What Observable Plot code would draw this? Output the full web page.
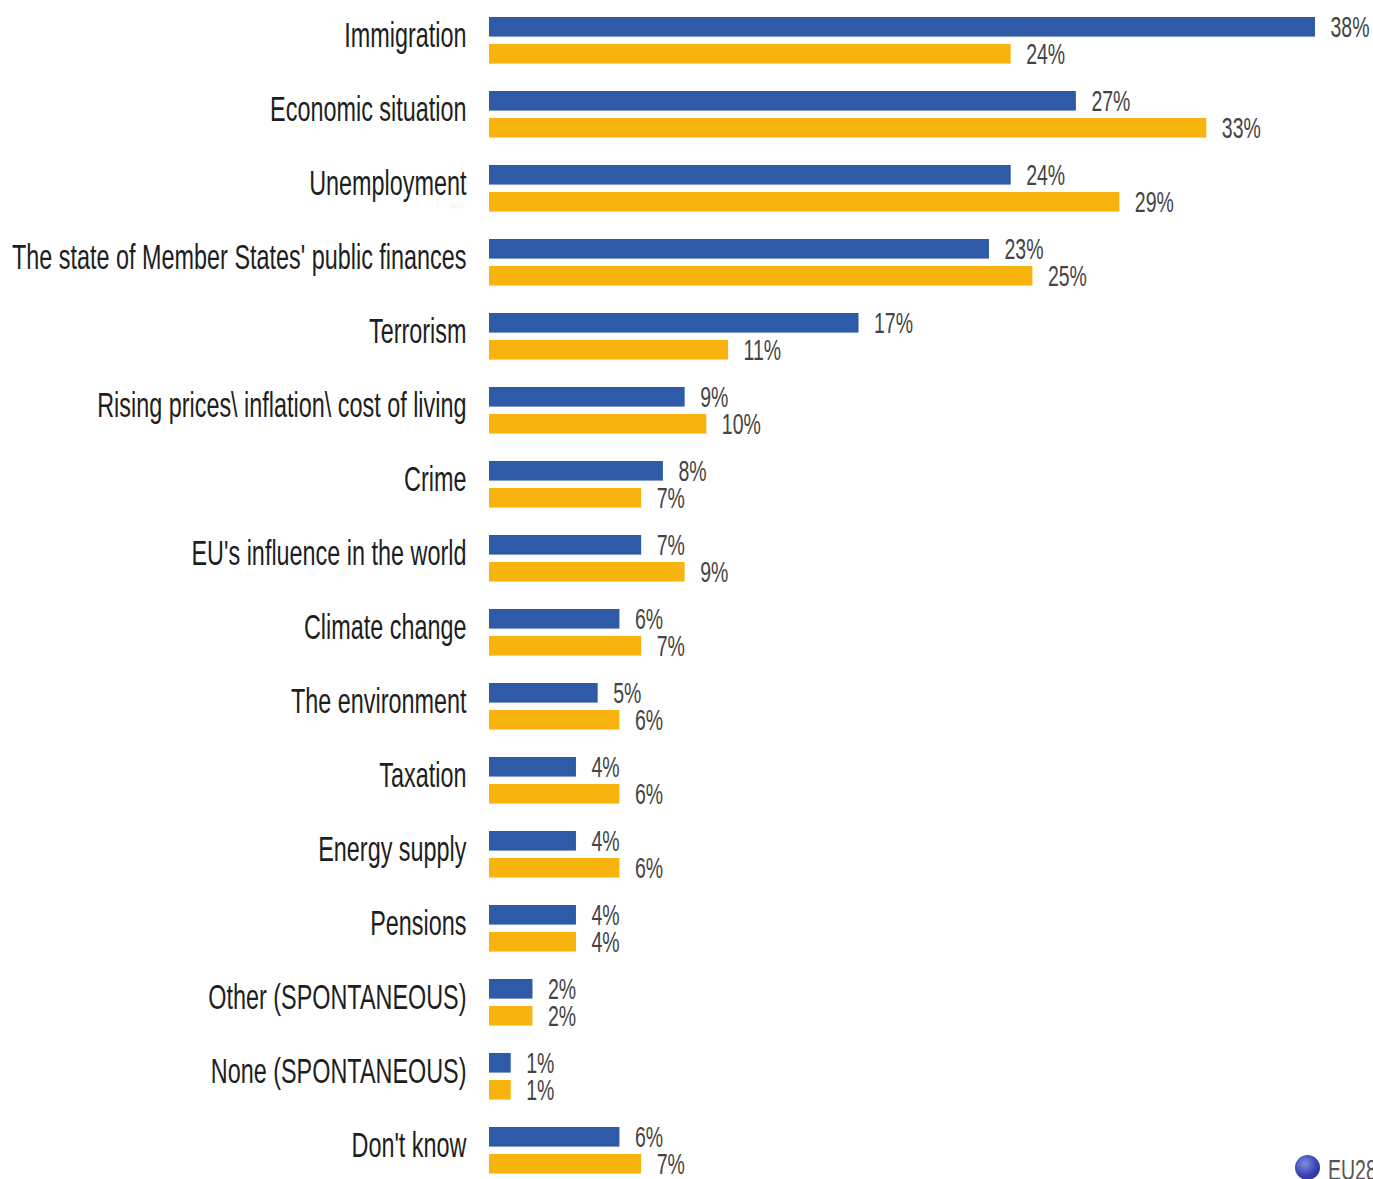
<!DOCTYPE html>
<html>
<head>
<meta charset="utf-8">
<script src="https://cdn.jsdelivr.net/npm/d3@7"></script>
<script src="https://cdn.jsdelivr.net/npm/@observablehq/plot@0.6"></script>
<style>
  html, body { margin: 0; padding: 0; background: #ffffff; overflow: hidden; width: 1373px; height: 1179px; }
  #chart { position: absolute; left: 0; top: 0; }
  #legend { position: absolute; left: 1295px; top: 1155px; white-space: nowrap; font-family: "Liberation Sans", Arial, sans-serif; }
  #legend .dot { display: inline-block; width: 25px; height: 25px; border-radius: 50%;
    background: radial-gradient(circle at 40% 35%, #7d8fe0 0%, #3a3fb0 55%, #23268a 100%); vertical-align: top; }
  #legend .txt { display: inline-block; font-size: 30px; color: #555; transform: scaleX(0.65); transform-origin: left top; margin-left: 8px; line-height: 30px; }
</style>
</head>
<body>
<div id="chart"></div>
<div id="legend"><span class="dot"></span><span class="txt">EU28</span></div>
<script>
const categories = [
  "Immigration",
  "Economic situation",
  "Unemployment",
  "The state of Member States' public finances",
  "Terrorism",
  "Rising prices\\ inflation\\ cost of living",
  "Crime",
  "EU's influence in the world",
  "Climate change",
  "The environment",
  "Taxation",
  "Energy supply",
  "Pensions",
  "Other (SPONTANEOUS)",
  "None (SPONTANEOUS)",
  "Don't know"
];
const blueValues   = [38, 27, 24, 23, 17, 9, 8, 7, 6, 5, 4, 4, 4, 2, 1, 6];
const yellowValues = [24, 33, 29, 25, 11, 10, 7, 9, 7, 6, 6, 6, 4, 2, 1, 7];

const blueColor = "#2f5aa8";
const yellowColor = "#f8b30e";

const blueData = categories.map((c, i) => ({category: c, value: blueValues[i]}));
const yellowData = categories.map((c, i) => ({category: c, value: yellowValues[i]}));

const band = 74.4;
const top0 = 0;

const chart = Plot.plot({
  width: 1373,
  height: 1191,
  marginLeft: 489,
  marginRight: 0,
  marginTop: 0,
  marginBottom: 0,
  style: {background: "#ffffff", fontFamily: "'Liberation Sans', Arial, sans-serif"},
  x: {domain: [0, 38], range: [489, 1315], axis: null},
  y: {domain: categories, range: [top0, top0 + categories.length * band], padding: 0, axis: null},
  marks: [
    Plot.barX(blueData, {x: "value", y: "category", fill: blueColor, insetTop: 14, insetBottom: 40.4}),
    Plot.barX(yellowData, {x: "value", y: "category", fill: yellowColor, insetTop: 41, insetBottom: 13.4}),
    Plot.text(blueData, {x: "value", y: "category", text: d => d.value + "%", dx: 15, dy: -13.5,
      textAnchor: "start", fontSize: 30, fill: "#444444"}),
    Plot.text(yellowData, {x: "value", y: "category", text: d => d.value + "%", dx: 15, dy: 13.5,
      textAnchor: "start", fontSize: 30, fill: "#444444"}),
    Plot.text(categories, {x: () => 0, y: d => d, text: d => d, dx: -23, dy: -5,
      textAnchor: "end", fontSize: 36, fill: "#1e1e1e"})
  ]
});

chart.querySelectorAll("text").forEach(t => {
  const tr = t.getAttribute("transform");
  if (tr) {
    t.setAttribute("transform", tr + " scale(0.65,1)");
  } else {
    const x = t.getAttribute("x") || 0, y = t.getAttribute("y") || 0;
    t.removeAttribute("x"); t.removeAttribute("y");
    t.setAttribute("transform", `translate(${x},${y}) scale(0.65,1)`);
  }
});

document.getElementById("chart").appendChild(chart);
</script>
</body>
</html>
